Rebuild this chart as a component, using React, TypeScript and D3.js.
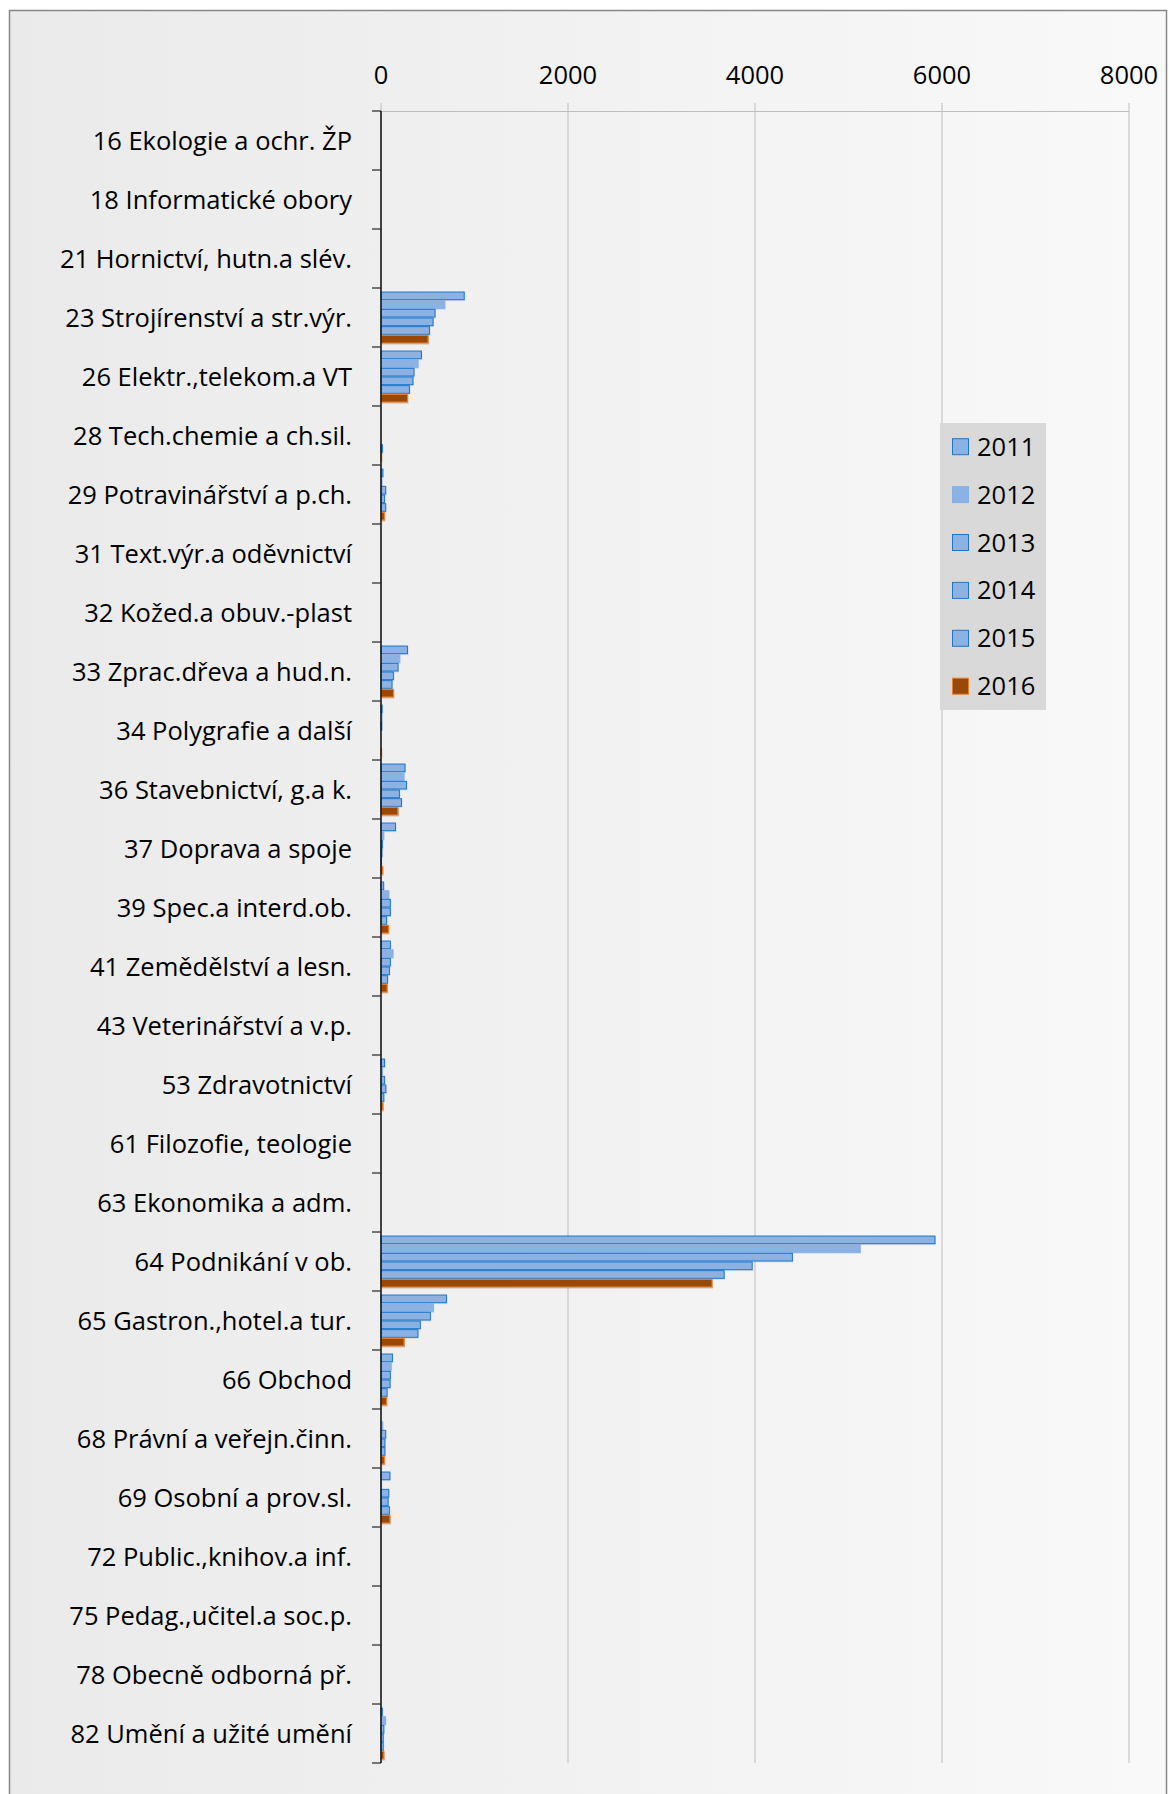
import React from "react";
import * as d3 from "d3";

const categories = [
  "16 Ekologie a ochr. ŽP",
  "18 Informatické obory",
  "21 Hornictví, hutn.a slév.",
  "23 Strojírenství a str.výr.",
  "26 Elektr.,telekom.a VT",
  "28 Tech.chemie a ch.sil.",
  "29 Potravinářství a p.ch.",
  "31 Text.výr.a oděvnictví",
  "32 Kožed.a obuv.-plast",
  "33 Zprac.dřeva a hud.n.",
  "34 Polygrafie a další",
  "36 Stavebnictví, g.a k.",
  "37 Doprava a spoje",
  "39 Spec.a interd.ob.",
  "41 Zemědělství a lesn.",
  "43 Veterinářství a v.p.",
  "53 Zdravotnictví",
  "61 Filozofie, teologie",
  "63 Ekonomika a adm.",
  "64 Podnikání v ob.",
  "65 Gastron.,hotel.a tur.",
  "66 Obchod",
  "68 Právní a veřejn.činn.",
  "69 Osobní a prov.sl.",
  "72 Public.,knihov.a inf.",
  "75 Pedag.,učitel.a soc.p.",
  "78 Obecně odborná př.",
  "82 Umění a užité umění",
];

const years = ["2011", "2012", "2013", "2014", "2015", "2016"];

const values2011 = [0, 0, 0, 890, 432, 0, 20, 0, 0, 283, 12, 257, 155, 28, 100, 0, 38, 0, 0, 5925, 700, 122, 0, 95, 0, 0, 0, 14];
const values2012 = [0, 0, 0, 682, 396, 0, 8, 0, 0, 200, 10, 246, 28, 83, 128, 0, 15, 0, 0, 5125, 560, 108, 18, 3, 0, 0, 0, 48];
const values2013 = [0, 0, 0, 578, 353, 0, 50, 0, 0, 182, 8, 272, 15, 100, 100, 0, 38, 0, 0, 4400, 528, 100, 50, 83, 0, 0, 0, 30];
const values2014 = [0, 0, 0, 557, 342, 0, 38, 0, 0, 133, 0, 197, 10, 100, 90, 0, 52, 0, 0, 3970, 420, 97, 42, 76, 0, 0, 0, 24];
const values2015 = [0, 0, 0, 518, 304, 15, 50, 0, 0, 118, 0, 219, 5, 60, 70, 0, 30, 0, 0, 3670, 395, 65, 42, 90, 0, 0, 0, 24];
const values2016 = [0, 0, 0, 503, 283, 5, 35, 0, 0, 133, 4, 180, 18, 80, 65, 0, 20, 0, 0, 3540, 247, 58, 35, 95, 0, 0, 0, 30];

const xTicks = [0, 2000, 4000, 6000, 8000];

const series = [values2011, values2012, values2013, values2014, values2015, values2016];

const fills = ["#8cb2e4", "#8cb2e4", "#8cb2e4", "#8cb2e4", "#8cb2e4", "#984807"];
const strokes = ["#1e76c8", "#86b0e4", "#1e76c8", "#1e76c8", "#1e76c8", "#ef7d28"];

const font = "'Open Sans', 'Noto Sans', sans-serif";
const fontSize = 25.5;

const App = () => {
  const width = 1169;
  const height = 1794;

  const x = d3.scaleLinear().domain([0, 8000]).range([381, 1129]);
  const y = d3
    .scaleBand<string>()
    .domain(categories)
    .range([111, 1763])
    .paddingInner(0.12)
    .paddingOuter(0.06);
  const yInner = d3.scaleBand<string>().domain(years).range([0, y.bandwidth()]);

  const top = y.range()[0];
  const bottom = y.range()[1];
  const boundaries = d3.range(categories.length + 1).map((i) => top + i * y.step());

  return (
    <svg
      width={width}
      height={height}
      style={{ position: "absolute", left: 0, top: 0 }}
      fontFamily={font}
    >
      <defs>
        <linearGradient id="bg" x1="0" x2="1" y1="0" y2="0">
          <stop offset="0" stopColor="#eaeaea" />
          <stop offset="1" stopColor="#f9f9f9" />
        </linearGradient>
      </defs>
      <rect x={0} y={0} width={width} height={height} fill="#fff" />
      <rect x={9.5} y={10.5} width={1157} height={1800} fill="url(#bg)" stroke="#878787" strokeWidth={1.5} />

      {/* value axis: gridlines and labels on top */}
      {xTicks.map((t) => (
        <g key={t}>
          <line x1={x(t)} x2={x(t)} y1={top - 8} y2={bottom} stroke="#bdbdbd" strokeWidth={1} />
          <text x={x(t)} y={83.5} textAnchor="middle" fontSize={fontSize} fill="#000">
            {t}
          </text>
        </g>
      ))}
      <line x1={x(0)} x2={x(8000)} y1={top + 0.5} y2={top + 0.5} stroke="#bdbdbd" strokeWidth={1} />

      {/* bars */}
      {categories.map((c, ci) => (
        <g key={c} transform={`translate(0, ${y(c)})`}>
          {years.map((yr, yi) => {
            const v = series[yi][ci];
            if (!v) return null;
            const w = x(v) - x(0);
            const by = yInner(yr) as number;
            const bh = yInner.bandwidth();
            return (
              <g key={yr}>
                <rect x={x(0) + 1} y={by + 1} width={w} height={bh} fill={fills[yi]} opacity={0.35} />
                <rect
                  x={x(0)}
                  y={by + 0.5}
                  width={w}
                  height={bh - 1}
                  fill={fills[yi]}
                  stroke={strokes[yi]}
                  strokeWidth={1}
                />
              </g>
            );
          })}
        </g>
      ))}

      {/* category axis */}
      <line x1={x(0)} x2={x(0)} y1={top} y2={bottom} stroke="#111" strokeWidth={1.5} />
      {boundaries.map((b, i) => (
        <line key={i} x1={x(0) - 9} x2={x(0)} y1={b} y2={b} stroke="#222" strokeWidth={1.2} />
      ))}
      {categories.map((c) => (
        <text
          key={c}
          x={352}
          y={(y(c) as number) + y.bandwidth() / 2 + 9}
          textAnchor="end"
          fontSize={fontSize}
          fill="#000"
        >
          {c}
        </text>
      ))}

      {/* legend */}
      <g>
        <rect x={940} y={423} width={106} height={287} fill="#d9d9d9" />
        {years.map((yr, i) => {
          const cy = 446.7 + i * 47.9;
          return (
            <g key={yr}>
              <rect x={952.5} y={cy - 8} width={16} height={16} fill={fills[i]} stroke={strokes[i]} strokeWidth={1} />
              <text x={977} y={cy + 9} fontSize={fontSize} fill="#000">
                {yr}
              </text>
            </g>
          );
        })}
      </g>
    </svg>
  );
};

export default App;
